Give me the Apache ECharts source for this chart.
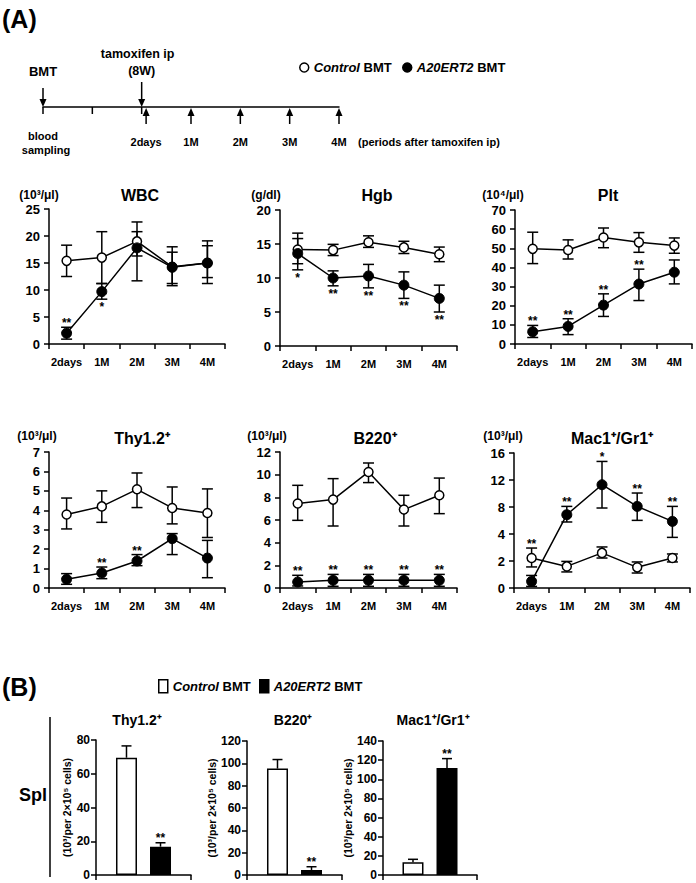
<!DOCTYPE html>
<html><head><meta charset="utf-8">
<script src="https://cdn.jsdelivr.net/npm/echarts@6/dist/echarts.min.js"></script>
<style>html,body{margin:0;padding:0;background:#fff}#c{width:696px;height:883px}</style>
</head><body><div id="c"></div>
<script>
// ---------------- DATA ----------------
const periods = ['2days', '1M', '2M', '3M', '4M'];

// WBC (10^3/μl)
const wbcCtrl   = [15.4, 16.0, 19.0, 14.3, 15.0];
const wbcCtrlHi = [18.3, 20.8, 22.6, 18.0, 19.1];
const wbcCtrlLo = [12.5, 11.2, 16.3, 10.8, 11.2];
const wbcA20    = [2.0, 9.7, 17.8, 14.2, 15.0];
const wbcA20Hi  = [3.1, 11.2, 20.8, 17.0, 18.2];
const wbcA20Lo  = [0.9, 8.3, 11.7, 11.2, 12.3];
const wbcStars  = ['**', '*', '', '', ''];
const wbcStarAt = ['a', 'b', '', '', ''];

// Hgb (g/dl)
const hgbCtrl   = [14.2, 14.1, 15.25, 14.5, 13.5];
const hgbCtrlHi = [16.6, 14.95, 16.2, 15.4, 14.55];
const hgbCtrlLo = [12.1, 13.3, 14.5, 13.6, 12.4];
const hgbA20    = [13.6, 10.0, 10.3, 8.95, 7.0];
const hgbA20Hi  = [15.8, 11.05, 12.0, 10.9, 8.95];
const hgbA20Lo  = [11.2, 8.85, 8.55, 7.0, 5.0];
const hgbStars  = ['*', '**', '**', '**', '**'];
const hgbStarAt = ['b', 'b', 'b', 'b', 'b'];

// Plt (10^4/μl)
const pltCtrl   = [49.7, 49.1, 55.6, 53.1, 51.4];
const pltCtrlHi = [58.4, 54.4, 60.6, 58.2, 55.4];
const pltCtrlLo = [42.0, 44.4, 50.3, 47.9, 47.4];
const pltA20    = [6.4, 9.2, 20.3, 31.3, 37.5];
const pltA20Hi  = [9.7, 13.2, 26.2, 39.1, 43.9];
const pltA20Lo  = [3.4, 4.9, 14.4, 22.7, 31.4];
const pltStars  = ['**', '**', '**', '**', ''];
const pltStarAt = ['a', 'a', 'a', 'a', ''];

// Thy1.2+ (10^3/μl)
const thyCtrl   = [3.78, 4.2, 5.08, 4.12, 3.86];
const thyCtrlHi = [4.63, 5.0, 5.92, 5.2, 5.1];
const thyCtrlLo = [3.04, 3.38, 4.14, 3.3, 2.6];
const thyA20    = [0.45, 0.77, 1.39, 2.54, 1.54];
const thyA20Hi  = [0.74, 1.08, 1.72, 2.8, 2.45];
const thyA20Lo  = [0.19, 0.48, 1.15, 1.72, 0.53];
const thyStars  = ['', '**', '**', '', ''];
const thyStarAt = ['', 'a', 'a', '', ''];

// B220+ (10^3/μl)
const b220Ctrl   = [7.45, 7.8, 10.24, 6.92, 8.18];
const b220CtrlHi = [9.06, 9.65, 11.03, 8.18, 9.7];
const b220CtrlLo = [5.97, 5.47, 9.3, 5.47, 6.56];
const b220A20    = [0.53, 0.68, 0.68, 0.68, 0.68];
const b220A20Hi  = [1.12, 1.2, 1.2, 1.2, 1.2];
const b220A20Lo  = [0.18, 0.15, 0.15, 0.15, 0.15];
const b220Stars  = ['**', '**', '**', '**', '**'];
const b220StarAt = ['a', 'a', 'a', 'a', 'a'];

// Mac1+/Gr1+ (10^3/μl) – axis is piecewise (0,2,4,8,12,16 evenly spaced)
const macTicks   = [0, 2, 4, 8, 12, 16];
const macCtrl    = [2.22, 1.6, 2.6, 1.53, 2.22];
const macCtrlHi  = [2.96, 1.97, 3.04, 1.93, 2.52];
const macCtrlLo  = [1.56, 1.19, 2.22, 1.11, 1.93];
const macA20     = [0.49, 6.86, 11.3, 8.09, 5.87];
const macA20Hi   = [0.93, 8.09, 14.75, 10.07, 8.09];
const macA20Lo   = [0.12, 5.78, 7.85, 6.02, 3.75];
const macStars   = ['**', '**', '*', '**', '**'];
const macStarAt  = ['c', 'a', 'a', 'a', 'a'];

// Panel B: spleen
const splGroups  = ['Thy1.2⁺', 'B220⁺', 'Mac1⁺/Gr1⁺'];
const splCtrl    = [69.5, 95.3, 13.2];
const splCtrlTop = [76.5, 103.4, 16.4];
const splA20     = [16.8, 4.5, 111.9];
const splA20Top  = [19.1, 7.4, 121.6];
const splStars   = ['**', '**', '**'];
const splMax     = [80, 120, 140];

// Timeline schematic
const tlTicks    = [0, 1, 2];
const tlDown     = [0, 2];
const tlDownText = [['BMT'], ['tamoxifen ip', '(8W)']];
const tlUp       = [2.09, 3, 4, 5, 6];
const tlUpText   = ['2days', '1M', '2M', '3M', '4M'];

// ---------------- STYLE / LAYOUT ----------------
const FONT = '"Liberation Sans", Arial, Helvetica, sans-serif';
const BLACK = '#000';
const ident = v => v;
const macFwd = v => v <= 4 ? v / 2 : 2 + (v - 4) / 4;

const lineSets = [
  {title: 'WBC', unit: '(10³/μl)', max: 25, step: 5, ctrl: wbcCtrl, ctrlHi: wbcCtrlHi, ctrlLo: wbcCtrlLo, a20: wbcA20, a20Hi: wbcA20Hi, a20Lo: wbcA20Lo, stars: wbcStars, at: wbcStarAt,
   box: [49, 209, 176, 135], tx: 140, ty: 195, ux: 39, uy: 195},
  {title: 'Hgb', unit: '(g/dl)', max: 20, step: 5, ctrl: hgbCtrl, ctrlHi: hgbCtrlHi, ctrlLo: hgbCtrlLo, a20: hgbA20, a20Hi: hgbA20Hi, a20Lo: hgbA20Lo, stars: hgbStars, at: hgbStarAt,
   box: [280, 210, 177, 136], tx: 377, ty: 195, ux: 266, uy: 195},
  {title: 'Plt', unit: '(10⁴/μl)', max: 70, step: 10, ctrl: pltCtrl, ctrlHi: pltCtrlHi, ctrlLo: pltCtrlLo, a20: pltA20, a20Hi: pltA20Hi, a20Lo: pltA20Lo, stars: pltStars, at: pltStarAt,
   box: [515, 210, 177, 134], tx: 608, ty: 195, ux: 503, uy: 195},
  {title: 'Thy1.2⁺', unit: '(10³/μl)', max: 7, step: 1, ctrl: thyCtrl, ctrlHi: thyCtrlHi, ctrlLo: thyCtrlLo, a20: thyA20, a20Hi: thyA20Hi, a20Lo: thyA20Lo, stars: thyStars, at: thyStarAt,
   box: [49, 452, 176, 136], tx: 142, ty: 438, ux: 37, uy: 436},
  {title: 'B220⁺', unit: '(10³/μl)', max: 12, step: 2, ctrl: b220Ctrl, ctrlHi: b220CtrlHi, ctrlLo: b220CtrlLo, a20: b220A20, a20Hi: b220A20Hi, a20Lo: b220A20Lo, stars: b220Stars, at: b220StarAt,
   box: [280, 452, 177, 136], tx: 375, ty: 438, ux: 267, uy: 436},
  {title: 'Mac1⁺/Gr1⁺', unit: '(10³/μl)', max: 5, step: 1, ctrl: macCtrl, ctrlHi: macCtrlHi, ctrlLo: macCtrlLo, a20: macA20, a20Hi: macA20Hi, a20Lo: macA20Lo, stars: macStars, at: macStarAt,
   box: [514, 453, 176, 135], tx: 612, ty: 438, ux: 503, uy: 436, fwd: macFwd, ticks: macTicks}
];
const barBoxes = [[96, 740, 95, 135], [247, 741, 95, 134], [383, 741, 94, 134]];
const barNameGap = [19, 25, 25];
const barTitleX = [137, 293, 433];
const BW = 21, GAP = 0.62;

const grids = [], xAxes = [], yAxes = [], series = [], graphics = [];

function gText(text, x, y, size, opts) {
  opts = opts || {};
  graphics.push({type: 'text', x: x, y: y, z: 10, style: Object.assign({
    text: text, fill: BLACK, fontSize: size, fontWeight: 'bold', fontFamily: FONT,
    align: 'center', verticalAlign: 'middle'}, opts)});
}

function errItem(cap) {
  return function (params, api) {
    const t = api.coord([api.value(0), api.value(1)]);
    const b = api.coord([api.value(0), api.value(2)]);
    const st = {stroke: BLACK, lineWidth: 1.5};
    return {type: 'group', children: [
      {type: 'line', shape: {x1: t[0], y1: t[1], x2: b[0], y2: b[1]}, style: st},
      {type: 'line', shape: {x1: t[0] - cap, y1: t[1], x2: t[0] + cap, y2: t[1]}, style: st},
      {type: 'line', shape: {x1: b[0] - cap, y1: b[1], x2: b[0] + cap, y2: b[1]}, style: st}
    ]};
  };
}
function starItem(texts, at) {
  return function (params, api) {
    const i = params.dataIndex;
    if (!texts[i]) return null;
    const p = api.coord([api.value(0), api.value(1)]);
    const below = at[i] === 'b';
    return {type: 'text', x: p[0], y: below ? p[1] + 2 : p[1] + 2, style: {
      text: texts[i], fill: BLACK, fontSize: 12, fontWeight: 'bold', fontFamily: FONT,
      align: 'center', verticalAlign: below ? 'top' : 'bottom'}};
  };
}

// ---------------- PANEL A line charts ----------------
lineSets.forEach(function (s, k) {
  const f = s.fwd || ident;
  grids.push({left: s.box[0], top: s.box[1], width: s.box[2], height: s.box[3]});
  xAxes.push({type: 'category', gridIndex: k, data: periods, boundaryGap: true,
    axisLine: {lineStyle: {color: BLACK, width: 1.5}},
    axisTick: {show: true, inside: false, length: 5, lineStyle: {color: BLACK, width: 1.5}},
    axisLabel: {color: BLACK, fontSize: 11, fontWeight: 'bold', fontFamily: FONT, margin: 12, interval: 0, hideOverlap: false},
    splitLine: {show: false}});
  yAxes.push({type: 'value', gridIndex: k, min: 0, max: s.max, interval: s.step,
    axisLine: {show: true, lineStyle: {color: BLACK, width: 1.5}},
    axisTick: {show: true, length: 5, lineStyle: {color: BLACK, width: 1.5}},
    axisLabel: {color: BLACK, fontSize: 13, fontWeight: 'bold', fontFamily: FONT, margin: 9,
      formatter: s.ticks ? function (v) { return String(s.ticks[Math.round(v)]); } : '{value}'},
    splitLine: {show: false}});
  series.push({type: 'custom', name: 'errCtrl', xAxisIndex: k, yAxisIndex: k, z: 1, silent: true,
    renderItem: errItem(5.5), encode: {x: 0, y: [1, 2]},
    data: periods.map(function (_, i) { return [i, f(s.ctrlHi[i]), f(s.ctrlLo[i])]; })});
  series.push({type: 'custom', name: 'errA20', xAxisIndex: k, yAxisIndex: k, z: 1, silent: true,
    renderItem: errItem(5.5), encode: {x: 0, y: [1, 2]},
    data: periods.map(function (_, i) { return [i, f(s.a20Hi[i]), f(s.a20Lo[i])]; })});
  series.push({type: 'line', name: 'Control BMT', xAxisIndex: k, yAxisIndex: k, z: 2,
    data: s.ctrl.map(f), symbol: 'circle', symbolSize: 9, showSymbol: true,
    lineStyle: {color: BLACK, width: 1.5},
    itemStyle: {color: '#fff', borderColor: BLACK, borderWidth: 1.5}});
  series.push({type: 'line', name: 'A20ERT2 BMT', xAxisIndex: k, yAxisIndex: k, z: 2,
    data: s.a20.map(f), symbol: 'circle', symbolSize: 10, showSymbol: true,
    lineStyle: {color: BLACK, width: 1.5},
    itemStyle: {color: BLACK, borderColor: BLACK, borderWidth: 1}});
  series.push({type: 'custom', name: 'stars', xAxisIndex: k, yAxisIndex: k, z: 5, silent: true,
    renderItem: starItem(s.stars, s.at), encode: {x: 0, y: 1},
    data: periods.map(function (_, i) {
      const v = s.at[i] === 'b' ? s.a20Lo[i] : (s.at[i] === 'c' ? s.ctrlHi[i] : s.a20Hi[i]);
      return [i, f(v)];
    })});
  gText(s.title, s.tx, s.ty, 16);
  gText(s.unit, s.ux, s.uy, 12);
});

// ---------------- PANEL B bar charts ----------------
splGroups.forEach(function (g, j) {
  const k = lineSets.length + j;
  const b = barBoxes[j];
  grids.push({left: b[0], top: b[1], width: b[2], height: b[3]});
  xAxes.push({type: 'category', gridIndex: k, data: ['Spl'], boundaryGap: true,
    axisLine: {lineStyle: {color: BLACK, width: 1.5}},
    axisTick: {show: true, length: 5, lineStyle: {color: BLACK, width: 1.5}},
    axisLabel: {show: false}, splitLine: {show: false}});
  yAxes.push({type: 'value', gridIndex: k, min: 0, max: splMax[j], interval: 20,
    name: '(10³/per 2×10⁵ cells)', nameLocation: 'middle', nameGap: barNameGap[j], nameRotate: 90,
    nameTextStyle: {color: BLACK, fontSize: 10.5, fontWeight: 'bold', fontFamily: FONT},
    axisLine: {show: true, lineStyle: {color: BLACK, width: 1.5}},
    axisTick: {show: true, length: 5, lineStyle: {color: BLACK, width: 1.5}},
    axisLabel: {color: BLACK, fontSize: 12, fontWeight: 'bold', fontFamily: FONT, margin: 6},
    splitLine: {show: false}});
  series.push({type: 'bar', name: 'Control BMT', xAxisIndex: k, yAxisIndex: k, data: [splCtrl[j]],
    barWidth: BW, barGap: (GAP * 100) + '%', z: 2,
    itemStyle: {color: '#fff', borderColor: BLACK, borderWidth: 1.5}});
  series.push({type: 'bar', name: 'A20ERT2 BMT', xAxisIndex: k, yAxisIndex: k, data: [splA20[j]],
    barWidth: BW, barGap: (GAP * 100) + '%', z: 2,
    itemStyle: {color: BLACK, borderColor: BLACK, borderWidth: 1.5}});
  const off = BW * (1 + GAP) / 2;
  series.push({type: 'custom', name: 'errSpl', xAxisIndex: k, yAxisIndex: k, z: 1, silent: true,
    encode: {x: 0, y: [1, 2]},
    data: [[0, splCtrl[j], splCtrlTop[j], -1], [0, splA20[j], splA20Top[j], 1]],
    renderItem: function (params, api) {
      const c = api.coord([api.value(0), api.value(1)]);
      const e = api.coord([api.value(0), api.value(2)]);
      const x = c[0] + api.value(3) * off;
      const st = {stroke: BLACK, lineWidth: 1.5};
      const kids = [
        {type: 'line', shape: {x1: x, y1: c[1], x2: x, y2: e[1]}, style: st},
        {type: 'line', shape: {x1: x - 5, y1: e[1], x2: x + 5, y2: e[1]}, style: st}];
      if (api.value(3) > 0 && splStars[j]) {
        kids.push({type: 'text', x: x, y: e[1] + 1, style: {text: splStars[j], fill: BLACK, fontSize: 12,
          fontWeight: 'bold', fontFamily: FONT, align: 'center', verticalAlign: 'bottom'}});
      }
      return {type: 'group', children: kids};
    }});
  gText(g, barTitleX[j], 720, 14);
});

// ---------------- Timeline schematic ----------------
const tk = grids.length;
grids.push({left: 43, top: 97, width: 296, height: 10});
xAxes.push({type: 'value', gridIndex: tk, min: 0, max: 6, position: 'bottom',
  axisLine: {show: true, onZero: false, lineStyle: {color: BLACK, width: 1.5}},
  axisTick: {show: false}, axisLabel: {show: false}, splitLine: {show: false}});
yAxes.push({type: 'value', gridIndex: tk, min: 0, max: 1, show: false});
const tlFont = {fill: BLACK, fontSize: 11, fontWeight: 'bold', fontFamily: FONT, align: 'center', verticalAlign: 'middle'};
series.push({type: 'custom', name: 'tlTicks', xAxisIndex: tk, yAxisIndex: tk, silent: true,
  data: tlTicks.map(function (v) { return [v, 0]; }), encode: {x: 0, y: 1},
  renderItem: function (params, api) {
    const p = api.coord([api.value(0), 0]);
    const kids = [{type: 'line', shape: {x1: p[0], y1: p[1], x2: p[0], y2: p[1] + 7}, style: {stroke: BLACK, lineWidth: 1.5}}];
    if (params.dataIndex === 0) {
      kids.push({type: 'text', x: p[0], y: p[1] + 29, style: Object.assign({text: 'blood'}, tlFont)});
      kids.push({type: 'text', x: p[0] + 3, y: p[1] + 43, style: Object.assign({text: 'sampling'}, tlFont)});
    }
    return {type: 'group', children: kids};
  }});
series.push({type: 'custom', name: 'tlDown', xAxisIndex: tk, yAxisIndex: tk, silent: true,
  data: tlDown.map(function (v) { return [v, 0]; }), encode: {x: 0, y: 1},
  renderItem: function (params, api) {
    const i = params.dataIndex;
    const p = api.coord([api.value(0), 0]);
    const len = i === 0 ? 19 : 25;
    const kids = [
      {type: 'line', shape: {x1: p[0], y1: p[1] - len, x2: p[0], y2: p[1] - 6}, style: {stroke: BLACK, lineWidth: 1.5}},
      {type: 'polygon', shape: {points: [[p[0] - 3.5, p[1] - 8], [p[0] + 3.5, p[1] - 8], [p[0], p[1]]]}, style: {fill: BLACK}}];
    const lines = tlDownText[i];
    lines.forEach(function (t, m) {
      kids.push({type: 'text', x: p[0] - (lines.length > 1 && m === 0 ? 4 : 0), y: p[1] - 36 - (lines.length - 1 - m) * 17,
        style: Object.assign({text: t}, tlFont, {fontSize: i === 0 ? 13 : 12.5})});
    });
    return {type: 'group', children: kids};
  }});
series.push({type: 'custom', name: 'tlUp', xAxisIndex: tk, yAxisIndex: tk, silent: true,
  data: tlUp.map(function (v) { return [v, 0]; }), encode: {x: 0, y: 1},
  renderItem: function (params, api) {
    const i = params.dataIndex;
    const p = api.coord([api.value(0), 0]);
    const tip = p[1] + 1;
    const kids = [
      {type: 'line', shape: {x1: p[0], y1: p[1] + 17, x2: p[0], y2: tip + 6}, style: {stroke: BLACK, lineWidth: 1.5}},
      {type: 'polygon', shape: {points: [[p[0] - 3.5, tip + 8], [p[0] + 3.5, tip + 8], [p[0], tip]]}, style: {fill: BLACK}},
      {type: 'text', x: p[0], y: p[1] + 35, style: Object.assign({text: tlUpText[i]}, tlFont)}];
    if (i === tlUp.length - 1) {
      kids.push({type: 'text', x: p[0] + 19, y: p[1] + 35, style: Object.assign({}, tlFont, {text: '(periods after tamoxifen ip)', align: 'left'})});
    }
    return {type: 'group', children: kids};
  }});

// ---------------- Other text / decorations ----------------
gText('(A)', 2, 19, 25, {align: 'left'});
gText('(B)', 2, 687, 25, {align: 'left'});
gText('Spl', 33, 795, 18);
graphics.push({type: 'line', shape: {x1: 50, y1: 717, x2: 50, y2: 877}, style: {stroke: BLACK, lineWidth: 1.5}});

const legendFmt = function (name) {
  return name === 'Control BMT' ? '{i|Control} BMT' : '{i|A20ERT2} BMT';
};
const legendText = {color: BLACK, fontSize: 13, fontWeight: 'bold', fontFamily: FONT,
  rich: {i: {fontStyle: 'italic', fontWeight: 'bold', fontSize: 13, fontFamily: FONT, color: BLACK}}};
function legendOne(name, left, top, icon, w, h, filled) {
  return {left: left, top: top, orient: 'horizontal', itemWidth: w, itemHeight: h, padding: 0,
    selectedMode: false, formatter: legendFmt, textStyle: legendText,
    data: [{name: name, icon: icon,
      itemStyle: {color: filled ? BLACK : '#fff', borderColor: BLACK, borderWidth: 1.5}}]};
}

const option = {
  animation: false,
  backgroundColor: '#fff',
  grid: grids, xAxis: xAxes, yAxis: yAxes, series: series,
  legend: [
    legendOne('Control BMT', 299, 61, 'circle', 9, 9, false),
    legendOne('A20ERT2 BMT', 402, 61, 'circle', 9, 9, true),
    legendOne('Control BMT', 158, 679, 'rect', 9, 13, false),
    legendOne('A20ERT2 BMT', 259, 679, 'rect', 9, 13, true)
  ],
  graphic: graphics
};
const chart = echarts.init(document.getElementById('c'), null, {renderer: 'svg', width: 696, height: 883});
chart.setOption(option);
</script>
</body></html>
